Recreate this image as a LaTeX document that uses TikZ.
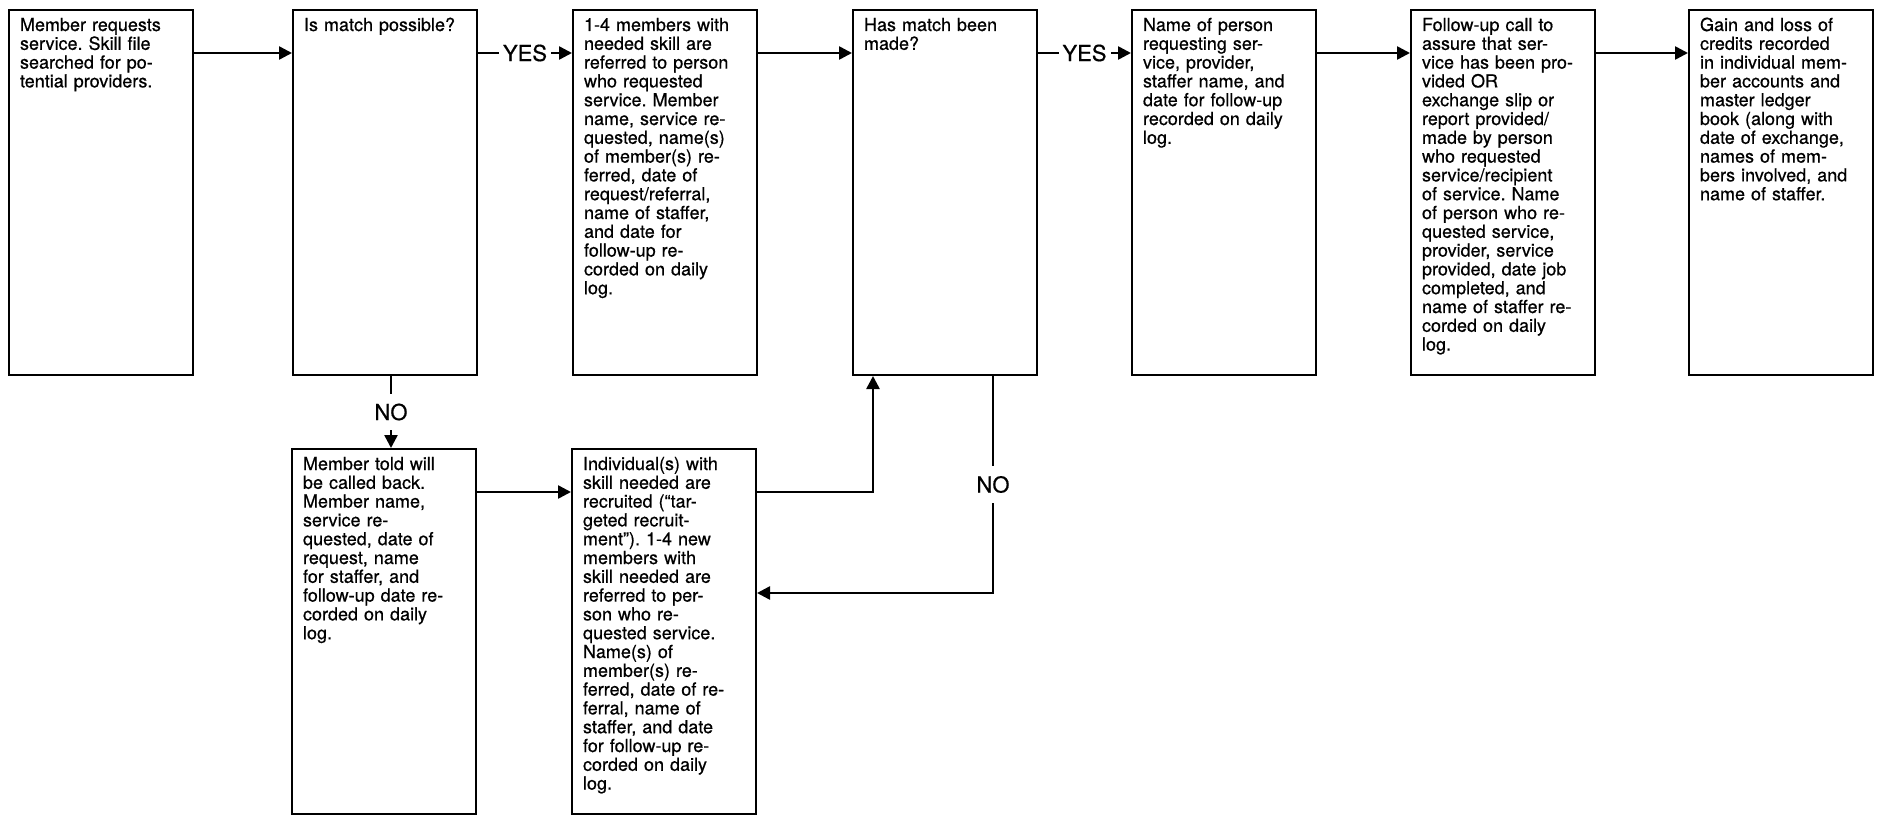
\documentclass[tikz,border=0pt]{standalone}
\usepackage{fontspec}
\setmainfont{TeX Gyre Heros}
\newfontfamily\heavyheros{TeX Gyre Heros}[FakeBold=0.6,Ligatures=TeX]
\usepackage{tikz}
\usetikzlibrary{calc,arrows.meta,positioning}

\newcommand{\stepfont}{\heavyheros\fontsize{18pt}{18.8pt}\selectfont\frenchspacing}
\newcommand{\answerfont}{\heavyheros\fontsize{22pt}{24pt}\selectfont}

\tikzset{
  stepbox/.style={draw, line width=2pt, anchor=north west, align=left,
    text width=162pt, inner xsep=11pt, inner ysep=0pt,
    text height=21pt, text depth=344pt, font=\stepfont},
  flow/.style={line width=2.5pt, -{Triangle[length=13pt,width=13pt]}},
  answer/.style={fill=white, font=\answerfont, inner xsep=4pt, inner ysep=2pt}
}

\begin{document}
\begin{tikzpicture}
  \useasboundingbox (0,0) rectangle (1877pt,-816pt);
  \coordinate(toprow) at (0,-53pt);
  \coordinate(lowrow) at (0,-492pt);
  \coordinate(backrow) at (0,-593pt);
  \coordinate(nocol) at (391pt,0);

  \node[stepbox](request) at (8pt,-9pt){Member requests\\ service. Skill file\\ searched for po-\\ tential providers.};
  \node[stepbox](possible) at (292pt,-9pt){Is match possible?};
  \node[stepbox](referred) at (572pt,-9pt){1-4 members with\\ needed skill are\\ referred to person\\ who requested\\ service. Member\\ name, service re-\\ quested, name(s)\\ of member(s) re-\\ ferred, date of\\ request/referral,\\ name of staffer,\\ and date for\\ follow-up re-\\ corded on daily\\ log.};
  \node[stepbox](made) at (852pt,-9pt){Has match been\\ made?};
  \node[stepbox](recorded) at (1131pt,-9pt){Name of person\\ requesting ser-\\ vice, provider,\\ staffer name, and\\ date for follow-up\\ recorded on daily\\ log.};
  \node[stepbox](followup) at (1410pt,-9pt){Follow-up call to\\ assure that ser-\\ vice has been pro-\\ vided OR\\ exchange slip or\\ report provided/\\ made by person\\ who requested\\ service/recipient\\ of service. Name\\ of person who re-\\ quested service,\\ provider, service\\ provided, date job\\ completed, and\\ name of staffer re-\\ corded on daily\\ log.};
  \node[stepbox](credits) at (1688pt,-9pt){Gain and loss of\\ credits recorded\\ in individual mem-\\ ber accounts and\\ master ledger\\ book (along with\\ date of exchange,\\ names of mem-\\ bers involved, and\\ name of staffer.};
  \node[stepbox](callback) at (291pt,-448pt){Member told will\\ be called back.\\ Member name,\\ service re-\\ quested, date of\\ request, name\\ for staffer, and\\ follow-up date re-\\ corded on daily\\ log.};
  \node[stepbox](recruit) at (571pt,-448pt){Individual(s) with\\ skill needed are\\ recruited (``tar-\\ geted recruit-\\ ment''). 1-4 new\\ members with\\ skill needed are\\ referred to per-\\ son who re-\\ quested service.\\ Name(s) of\\ member(s) re-\\ ferred, date of re-\\ ferral, name of\\ staffer, and date\\ for follow-up re-\\ corded on daily\\ log.};

  \draw[flow](request.east|-toprow)--(possible.west|-toprow);
  \draw[flow](possible.east|-toprow)--node[answer]{YES}(referred.west|-toprow);
  \draw[flow](referred.east|-toprow)--(made.west|-toprow);
  \draw[flow](made.east|-toprow)--node[answer]{YES}(recorded.west|-toprow);
  \draw[flow](recorded.east|-toprow)--(followup.west|-toprow);
  \draw[flow](followup.east|-toprow)--(credits.west|-toprow);
  \draw[flow](possible.south-|nocol)--node[answer,inner ysep=10pt]{NO}(callback.north-|nocol);
  \draw[flow](callback.east|-lowrow)--(recruit.west|-lowrow);
  \draw[flow](recruit.east|-lowrow)-|([xshift=21pt]made.south west);
  \draw[flow]([xshift=-45pt]made.south east)|-node[pos=0.25,answer,inner ysep=10pt]{NO}(recruit.east|-backrow);
\end{tikzpicture}
\end{document}
